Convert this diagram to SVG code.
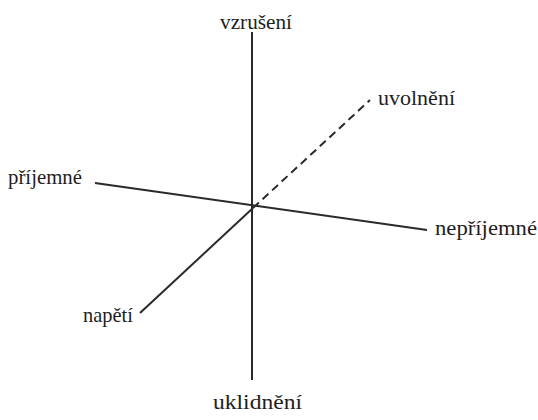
<svg xmlns="http://www.w3.org/2000/svg" width="538" height="420" viewBox="0 0 538 420">
<style>
.ax{stroke:#2a2a2a;stroke-width:2;fill:none;stroke-linecap:butt}
.dash{stroke-dasharray:8,5}
.lbl{font-family:"Liberation Serif","Times New Roman","DejaVu Serif",serif;font-size:22px;fill:#1e1e1e}
</style>
<rect width="538" height="420" fill="#fff"/>
<g id="connectors">
<line class="ax" x1="252" y1="32" x2="252" y2="380"/>
<line class="ax" x1="95" y1="183" x2="427" y2="230"/>
<line class="ax dash" x1="253" y1="208" x2="370" y2="100"/>
<line class="ax" x1="253" y1="208" x2="140" y2="313"/>
</g>
<g id="vzruseni"><text class="lbl" x="220" y="29" textLength="72" lengthAdjust="spacingAndGlyphs">vzrušení</text></g>
<g id="uvolneni"><text class="lbl" x="378" y="105" textLength="77" lengthAdjust="spacingAndGlyphs">uvolnění</text></g>
<g id="prijemne"><text class="lbl" x="8" y="184" textLength="74" lengthAdjust="spacingAndGlyphs">příjemné</text></g>
<g id="neprijemne"><text class="lbl" x="435" y="235" textLength="102" lengthAdjust="spacingAndGlyphs">nepříjemné</text></g>
<g id="napeti"><text class="lbl" x="83" y="322" textLength="50" lengthAdjust="spacingAndGlyphs">napětí</text></g>
<g id="uklidneni"><text class="lbl" x="213" y="409" textLength="89" lengthAdjust="spacingAndGlyphs">uklidnění</text></g>
</svg>
